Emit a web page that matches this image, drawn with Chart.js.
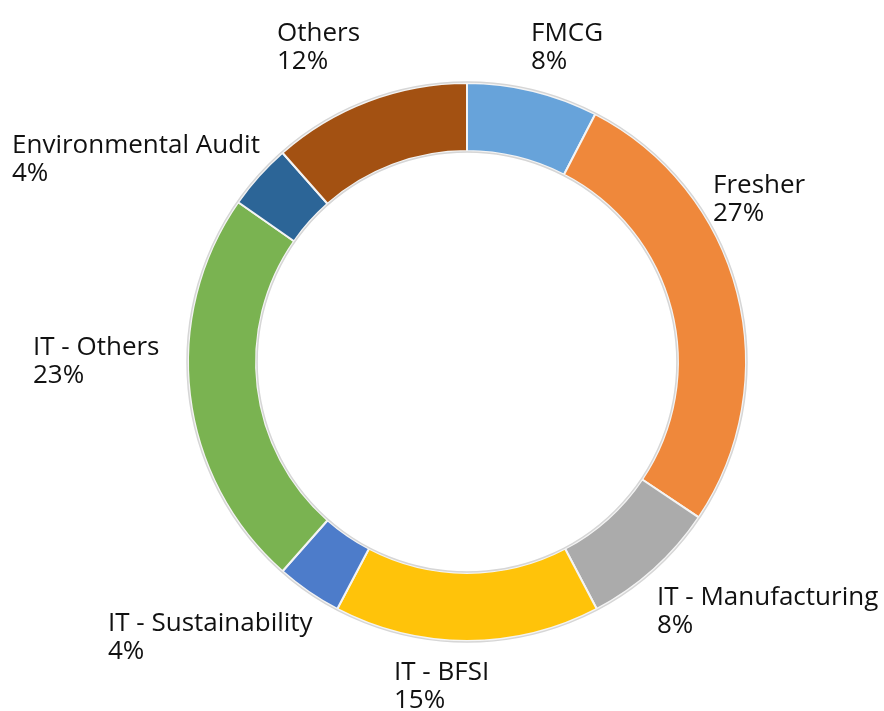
<!DOCTYPE html>
<html>
<head>
<meta charset="utf-8">
<script src="https://cdn.jsdelivr.net/npm/chart.js@4"></script>
<style>
  html, body { margin: 0; padding: 0; background: #fff; }
  #wrap { width: 884px; height: 711px; }
</style>
</head>
<body>
<div id="wrap"><canvas id="chartSectors"></canvas></div>
<script>
const sectors = ["FMCG", "Fresher", "IT - Manufacturing", "IT - BFSI", "IT - Sustainability", "IT - Others", "Environmental Audit", "Others"];
const shares = [7.6, 26.8, 7.9, 15.4, 3.8, 23.2, 3.8, 11.5];
const sectorColors = ["#67A3DA", "#EF883B", "#ABABAB", "#FFC30A", "#4D7CCA", "#7AB351", "#2C6597", "#A35112"];

// where each label block sits, relative to the doughnut centre (left edge, first baseline)
const labelSpots = [
  [64, -321], [246, -169], [190, 243], [-73, 318],
  [-359, 269], [-434, -7], [-455, -209], [-190, -321],
];

const ringOutline = {
  id: "ringOutline",
  afterDatasetsDraw(chart) {
    const arc = chart.getDatasetMeta(0).data[0];
    if (!arc) return;
    const { x, y, outerRadius, innerRadius } = arc.getProps(["x", "y", "outerRadius", "innerRadius"], true);
    const ctx = chart.ctx;
    ctx.save();
    ctx.strokeStyle = "#d6d6d6";
    ctx.lineWidth = 1.5;
    ctx.beginPath();
    ctx.arc(x, y, outerRadius + 1, 0, Math.PI * 2);
    ctx.stroke();
    ctx.beginPath();
    ctx.arc(x, y, innerRadius - 1, 0, Math.PI * 2);
    ctx.stroke();
    ctx.restore();
  },
};

const sectorLabels = {
  id: "sectorLabels",
  afterDraw(chart) {
    const arc = chart.getDatasetMeta(0).data[0];
    if (!arc) return;
    const ctx = chart.ctx;
    const total = shares.reduce((a, b) => a + b, 0);
    ctx.save();
    ctx.fillStyle = "#111";
    ctx.font = '26px "Open Sans", sans-serif';
    ctx.textAlign = "left";
    ctx.textBaseline = "alphabetic";
    sectors.forEach((name, i) => {
      const lx = arc.x + labelSpots[i][0];
      const ly = arc.y + labelSpots[i][1];
      ctx.fillText(name, lx, ly);
      ctx.fillText(Math.round((shares[i] / total) * 100) + "%", lx, ly + 28);
    });
    ctx.restore();
  },
};

const ctx = document.getElementById("chartSectors").getContext("2d");
new Chart(ctx, {
  type: "doughnut",
  data: {
    labels: sectors,
    datasets: [
      {
        data: shares,
        backgroundColor: sectorColors,
        borderColor: "#f4f4f4",
        borderWidth: 2,
        hoverOffset: 0,
        offset: 0,
      },
    ],
  },
  options: {
    responsive: true,
    maintainAspectRatio: false,
    animation: false,
    cutout: "75.6%",
    layout: {
      padding: { left: 187, right: 137, top: 82, bottom: 69 },
    },
    plugins: {
      legend: { display: false },
      tooltip: { enabled: false },
    },
  },
  plugins: [ringOutline, sectorLabels],
});
</script>
</body>
</html>
